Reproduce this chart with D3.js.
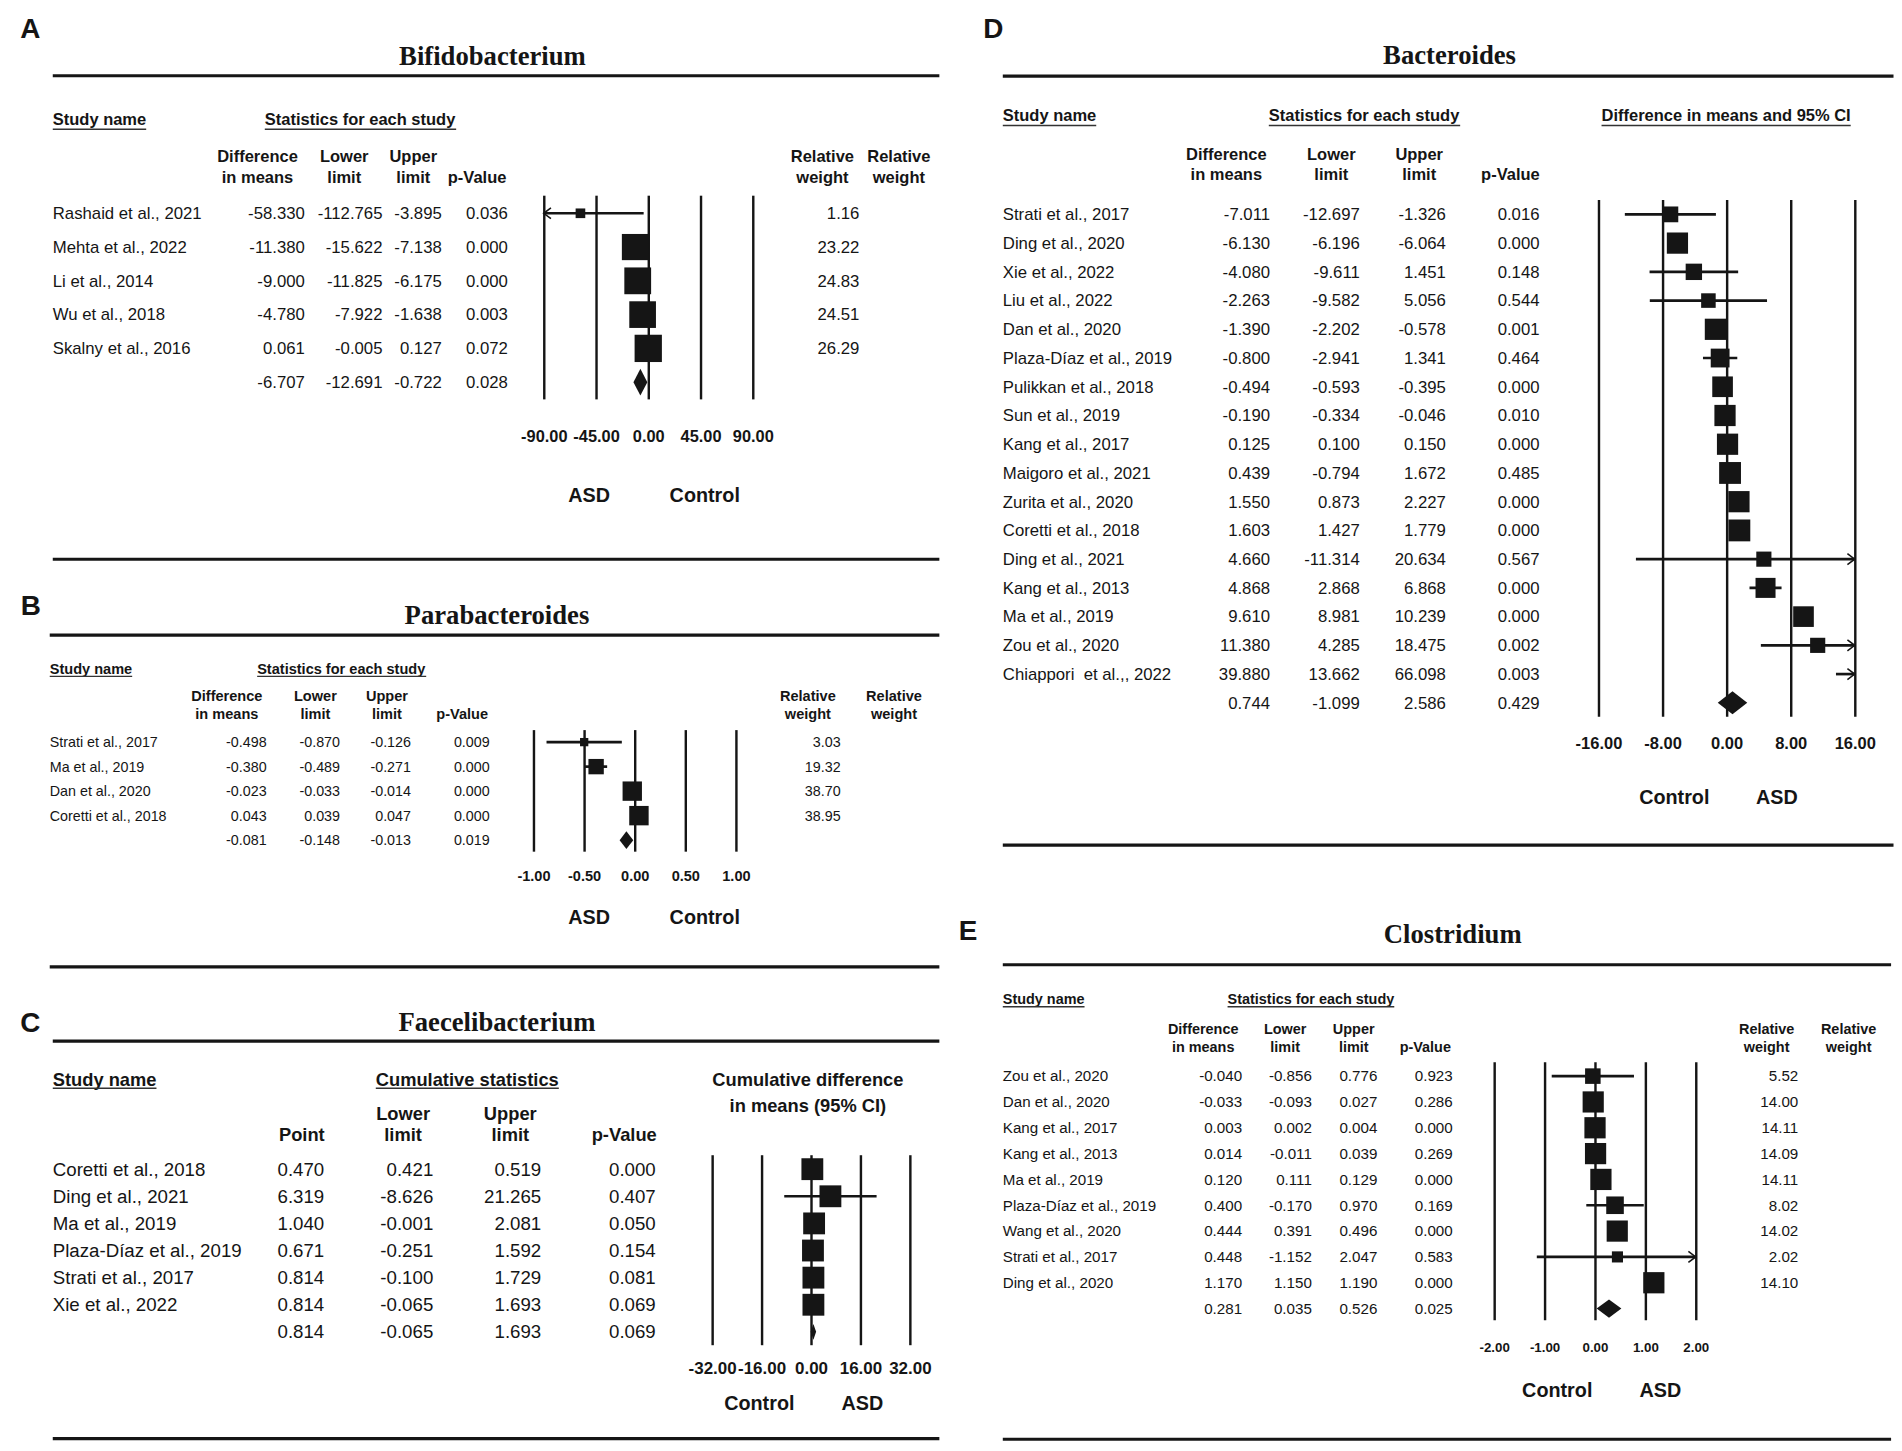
<!DOCTYPE html>
<html lang="en">
<head>
  <meta charset="UTF-8">
  <title>Forest plots</title>
  <script src="https://cdn.jsdelivr.net/npm/d3@7"></script>
  <style>
    body { margin: 0; background: #fff; }
    svg text { font-family: "Liberation Sans", Arial, sans-serif; fill: #151515; white-space: pre; }
    svg .title { font-family: "Liberation Serif", "Times New Roman", serif; font-weight: bold; }
    svg .hdr { font-weight: bold; }
    svg .letter { font-weight: bold; font-size: 23px; }
    svg .side { font-weight: bold; font-size: 16.3px; }
    .rule { stroke: #151515; stroke-width: 2.6; }
    .uline { stroke: #333; stroke-width: 1.2; }
    .ci { stroke: #151515; stroke-width: 2.2; fill: none; }
    .arrow { stroke: #151515; stroke-width: 1.3; fill: none; }
    .box, .diamond { fill: #151515; }
  </style>
</head>
<body>
<div id="chart"></div>
<script>
  // ---- A: Bifidobacterium
  const bifStudies = ["Rashaid et al., 2021", "Mehta et al., 2022", "Li et al., 2014", "Wu et al., 2018", "Skalny et al., 2016"]
  const bifDiff = [-58.330, -11.380, -9.000, -4.780, 0.061]
  const bifLower = [-112.765, -15.622, -11.825, -7.922, -0.005]
  const bifUpper = [-3.895, -7.138, -6.175, -1.638, 0.127]
  const bifP = [0.036, 0.000, 0.000, 0.003, 0.072]
  const bifWeight = [1.16, 23.22, 24.83, 24.51, 26.29]
  const bifSummary = [-6.707, -12.691, -0.722, 0.028]
  const bifTicks = [-90, -45, 0, 45, 90]

  // ---- B: Parabacteroides
  const paraStudies = ["Strati et al., 2017", "Ma et al., 2019", "Dan et al., 2020", "Coretti et al., 2018"]
  const paraDiff = [-0.498, -0.380, -0.023, 0.043]
  const paraLower = [-0.870, -0.489, -0.033, 0.039]
  const paraUpper = [-0.126, -0.271, -0.014, 0.047]
  const paraP = [0.009, 0.000, 0.000, 0.000]
  const paraWeight = [3.03, 19.32, 38.70, 38.95]
  const paraSummary = [-0.081, -0.148, -0.013, 0.019]
  const paraTicks = [-1, -0.5, 0, 0.5, 1]

  // ---- C: Faecelibacterium (cumulative)
  const faecStudies = ["Coretti et al., 2018", "Ding et al., 2021", "Ma et al., 2019", "Plaza-Díaz et al., 2019", "Strati et al., 2017", "Xie et al., 2022"]
  const faecPoint = [0.470, 6.319, 1.040, 0.671, 0.814, 0.814]
  const faecLower = [0.421, -8.626, -0.001, -0.251, -0.100, -0.065]
  const faecUpper = [0.519, 21.265, 2.081, 1.592, 1.729, 1.693]
  const faecP = [0.000, 0.407, 0.050, 0.154, 0.081, 0.069]
  const faecSummary = [0.814, -0.065, 1.693, 0.069]
  const faecTicks = [-32, -16, 0, 16, 32]

  // ---- D: Bacteroides
  const bactStudies = ["Strati et al., 2017", "Ding et al., 2020", "Xie et al., 2022", "Liu et al., 2022", "Dan et al., 2020",
    "Plaza-Díaz et al., 2019", "Pulikkan et al., 2018", "Sun et al., 2019", "Kang et al., 2017", "Maigoro et al., 2021",
    "Zurita et al., 2020", "Coretti et al., 2018", "Ding et al., 2021", "Kang et al., 2013", "Ma et al., 2019",
    "Zou et al., 2020", "Chiappori  et al.,, 2022"]
  const bactDiff = [-7.011, -6.130, -4.080, -2.263, -1.390, -0.800, -0.494, -0.190, 0.125, 0.439, 1.550, 1.603, 4.660, 4.868, 9.610, 11.380, 39.880]
  const bactLower = [-12.697, -6.196, -9.611, -9.582, -2.202, -2.941, -0.593, -0.334, 0.100, -0.794, 0.873, 1.427, -11.314, 2.868, 8.981, 4.285, 13.662]
  const bactUpper = [-1.326, -6.064, 1.451, 5.056, -0.578, 1.341, -0.395, -0.046, 0.150, 1.672, 2.227, 1.779, 20.634, 6.868, 10.239, 18.475, 66.098]
  const bactP = [0.016, 0.000, 0.148, 0.544, 0.001, 0.464, 0.000, 0.010, 0.000, 0.485, 0.000, 0.000, 0.567, 0.000, 0.000, 0.002, 0.003]
  // weights are not printed in D
  const bactWeightEst = [3.23, 7.86, 3.61, 2.53, 7.86, 5.47, 7.22, 7.86, 7.86, 8.56, 7.86, 8.56, 2.86, 6.59, 7.22, 2.86, 1.96]
  const bactSummary = [0.744, -1.099, 2.586, 0.429]
  const bactTicks = [-16, -8, 0, 8, 16]

  // ---- E: Clostridium
  const closStudies = ["Zou et al., 2020", "Dan et al., 2020", "Kang et al., 2017", "Kang et al., 2013", "Ma et al., 2019",
    "Plaza-Díaz et al., 2019", "Wang et al., 2020", "Strati et al., 2017", "Ding et al., 2020"]
  const closDiff = [-0.040, -0.033, 0.003, 0.014, 0.120, 0.400, 0.444, 0.448, 1.170]
  const closLower = [-0.856, -0.093, 0.002, -0.011, 0.111, -0.170, 0.391, -1.152, 1.150]
  const closUpper = [0.776, 0.027, 0.004, 0.039, 0.129, 0.970, 0.496, 2.047, 1.190]
  const closP = [0.923, 0.286, 0.000, 0.269, 0.000, 0.169, 0.000, 0.583, 0.000]
  const closWeight = [5.52, 14.00, 14.11, 14.09, 14.11, 8.02, 14.02, 2.02, 14.10]
  const closSummary = [0.281, 0.035, 0.526, 0.025]
  const closTicks = [-2, -1, 0, 1, 2]

  const sideAsdFirst = ["ASD", "Control"]
  const sideControlFirst = ["Control", "ASD"]

  const loc = d3.formatLocale({ decimal: ".", thousands: ",", grouping: [3], currency: ["", ""], minus: "-" })
  const f3 = loc.format(".3f")
  const f2 = loc.format(".2f")

  const W = 1568, H = 1196
  const svg = d3.select("#chart").append("svg")
    .attr("width", 1902).attr("height", 1451)
    .attr("viewBox", `0 0 ${W} ${H}`)
    .attr("preserveAspectRatio", "none")

  const panels = [
    {
      id: "A", title: "Bifidobacterium", letterAt: [25, 23], titleAt: [406, 45.6], titleSize: 22,
      ruleX: [43.5, 774.4], ruleY: [62.4, 461],
      font: 13.8, hdrFont: 13.6, tickFont: 13.5,
      groupY: 98.6, underY: 106.6,
      groups: [{ text: ["Study name"], x: 43.5 }, { text: ["Statistics for each study"], x: 218.3 }],
      nameX: 43.5, headY: [129, 145.7],
      cols: [
        { head: ["Difference", "in means"], center: 212.3, right: 251.3, values: bifDiff, total: bifSummary[0], fmt: f3 },
        { head: ["Lower", "limit"], center: 283.8, right: 315.3, values: bifLower, total: bifSummary[1], fmt: f3 },
        { head: ["Upper", "limit"], center: 340.7, right: 364.2, values: bifUpper, total: bifSummary[2], fmt: f3 },
        { head: ["p-Value"], center: 393.3, right: 418.7, values: bifP, total: bifSummary[3], fmt: f3 },
        { head: ["Relative", "weight"], center: 678, right: 708.5, values: bifWeight, total: null, fmt: f2 },
        { head: ["Relative", "weight"], center: 741, right: null }
      ],
      studies: bifStudies, est: bifDiff, lower: bifLower, upper: bifUpper, weight: bifWeight, summary: bifSummary,
      rows: [175.8, 315],
      domain: [-90, 90], ticks: bifTicks, xRange: [448.2, 620.5], lineY: [161.3, 329.2], tickY: 359.8,
      sides: sideAsdFirst, sideX: [485.6, 581], sideY: 407.8,
      maxBox: 22.5, diamondH: 22
    },
    {
      id: "B", title: "Parabacteroides", letterAt: [25.5, 499], titleAt: [409.7, 507], titleSize: 22,
      ruleX: [41, 774.4], ruleY: [523.5, 797],
      font: 11.8, hdrFont: 12, tickFont: 12,
      groupY: 551, underY: 557.5,
      groups: [{ text: ["Study name"], x: 41 }, { text: ["Statistics for each study"], x: 212 }],
      nameX: 41, headY: [574, 588.7],
      cols: [
        { head: ["Difference", "in means"], center: 187, right: 219.8, values: paraDiff, total: paraSummary[0], fmt: f3 },
        { head: ["Lower", "limit"], center: 260, right: 280.3, values: paraLower, total: paraSummary[1], fmt: f3 },
        { head: ["Upper", "limit"], center: 319, right: 338.8, values: paraUpper, total: paraSummary[2], fmt: f3 },
        { head: ["p-Value"], center: 381, right: 403.7, values: paraP, total: paraSummary[3], fmt: f3 },
        { head: ["Relative", "weight"], center: 666, right: 693, values: paraWeight, total: null, fmt: f2 },
        { head: ["Relative", "weight"], center: 737, right: null }
      ],
      studies: paraStudies, est: paraDiff, lower: paraLower, upper: paraUpper, weight: paraWeight, summary: paraSummary,
      rows: [611.7, 692.5],
      domain: [-1, 1], ticks: paraTicks, xRange: [439.7, 606.6], lineY: [601.8, 702], tickY: 722,
      sides: sideAsdFirst, sideX: [485.7, 581], sideY: 756,
      maxBox: 16, diamondH: 14.5
    },
    {
      id: "C", title: "Faecelibacterium", letterAt: [25, 843], titleAt: [409.7, 842.3], titleSize: 22,
      ruleX: [43.5, 774.4], ruleY: [858.2, 1185.8],
      font: 15.4, hdrFont: 15.1, tickFont: 14,
      groupY: 889.5, underY: 897,
      groups: [
        { text: ["Study name"], x: 43.5 },
        { text: ["Cumulative statistics"], x: 309.8 },
        { text: ["Cumulative difference", "in means (95% CI)"], center: 666, noLine: true, dy: 21.5 }
      ],
      nameX: 43.5, headY: [917.8, 935],
      cols: [
        { head: ["Point"], center: 248.8, right: 267.3, values: faecPoint, total: faecSummary[0], fmt: f3 },
        { head: ["Lower", "limit"], center: 332.3, right: 357.2, values: faecLower, total: faecSummary[1], fmt: f3 },
        { head: ["Upper", "limit"], center: 420.7, right: 446.2, values: faecUpper, total: faecSummary[2], fmt: f3 },
        { head: ["p-Value"], center: 514.6, right: 540.6, values: faecP, total: faecSummary[3], fmt: f3 }
      ],
      studies: faecStudies, est: faecPoint, lower: faecLower, upper: faecUpper, weight: null, summary: faecSummary,
      rows: [963.7, 1097.8],
      domain: [-32, 32], ticks: faecTicks, xRange: [587, 750], lineY: [952.2, 1108.8], tickY: 1127.5,
      sides: sideControlFirst, sideX: [626, 711], sideY: 1156.4,
      maxBox: 18, diamondH: 13
    },
    {
      id: "D", title: "Bacteroides", letterAt: [819, 23], titleAt: [1195, 45.3], titleSize: 22,
      ruleX: [826.7, 1561], ruleY: [62.7, 696.6],
      font: 13.8, hdrFont: 13.6, tickFont: 13.6,
      groupY: 94.8, underY: 103.4,
      groups: [
        { text: ["Study name"], x: 826.7 },
        { text: ["Statistics for each study"], x: 1046 },
        { text: ["Difference in means and 95% CI"], x: 1320.3 }
      ],
      nameX: 826.7, headY: [127, 143.4],
      cols: [
        { head: ["Difference", "in means"], center: 1011, right: 1047, values: bactDiff, total: bactSummary[0], fmt: f3 },
        { head: ["Lower", "limit"], center: 1097.5, right: 1121, values: bactLower, total: bactSummary[1], fmt: f3 },
        { head: ["Upper", "limit"], center: 1170, right: 1192, values: bactUpper, total: bactSummary[2], fmt: f3 },
        { head: ["p-Value"], center: 1245.2, right: 1269.2, values: bactP, total: bactSummary[3], fmt: f3 }
      ],
      studies: bactStudies, est: bactDiff, lower: bactLower, upper: bactUpper, weight: bactWeightEst, summary: bactSummary,
      rows: [176.7, 579.3],
      domain: [-16, 16], ticks: bactTicks, xRange: [1317.7, 1529], lineY: [164.9, 590.8], tickY: 612.3,
      sides: sideControlFirst, sideX: [1380.3, 1464.9], sideY: 656.8,
      maxBox: 18, diamondH: 19
    },
    {
      id: "E", title: "Clostridium", letterAt: [798, 767], titleAt: [1197.6, 770], titleSize: 22,
      ruleX: [826.7, 1559], ruleY: [795.2, 1186.3],
      font: 12.5, hdrFont: 11.9, tickFont: 11,
      groupY: 823.3, underY: 829.9,
      groups: [{ text: ["Study name"], x: 826.7 }, { text: ["Statistics for each study"], x: 1012 }],
      nameX: 826.7, headY: [848, 862.7],
      cols: [
        { head: ["Difference", "in means"], center: 991.9, right: 1024, values: closDiff, total: closSummary[0], fmt: f3 },
        { head: ["Lower", "limit"], center: 1059.5, right: 1081.5, values: closLower, total: closSummary[1], fmt: f3 },
        { head: ["Upper", "limit"], center: 1116, right: 1135.5, values: closUpper, total: closSummary[2], fmt: f3 },
        { head: ["p-Value"], center: 1175, right: 1197.6, values: closP, total: closSummary[3], fmt: f3 },
        { head: ["Relative", "weight"], center: 1456.4, right: 1482.5, values: closWeight, total: null, fmt: f2 },
        { head: ["Relative", "weight"], center: 1524, right: null }
      ],
      studies: closStudies, est: closDiff, lower: closLower, upper: closUpper, weight: closWeight, summary: closSummary,
      rows: [887, 1078.6],
      domain: [-2, 2], ticks: closTicks, xRange: [1231.7, 1397.9], lineY: [875.5, 1088.2], tickY: 1110.4,
      sides: sideControlFirst, sideX: [1283.8, 1368.8], sideY: 1145.8,
      maxBox: 17.5, diamondH: 15
    }
  ]

  function drawPanel (p) {
    const g = svg.append("g").attr("class", "panel panel-" + p.id)
    const n = p.studies.length

    g.append("text").attr("class", "letter")
      .attr("x", p.letterAt[0]).attr("y", p.letterAt[1]).attr("dy", "0.35em")
      .attr("text-anchor", "middle").text(p.id)

    g.append("text").attr("class", "title")
      .attr("x", p.titleAt[0]).attr("y", p.titleAt[1]).attr("dy", "0.35em")
      .attr("text-anchor", "middle").style("font-size", p.titleSize + "px").text(p.title)

    p.ruleY.forEach(y => {
      g.append("line").attr("class", "rule")
        .attr("x1", p.ruleX[0]).attr("x2", p.ruleX[1]).attr("y1", y).attr("y2", y)
    })

    // group headings, underlined
    p.groups.forEach(h => {
      h.text.forEach((line, k) => {
        const t = g.append("text").attr("class", "hdr")
          .attr("y", p.groupY + k * (h.dy || 0)).attr("dy", "0.35em")
          .style("font-size", p.hdrFont + "px").text(line)
        if (h.center != null) t.attr("x", h.center).attr("text-anchor", "middle")
        else t.attr("x", h.x)
        if (!h.noLine) {
          const bb = t.node().getBBox()
          g.append("line").attr("class", "uline")
            .attr("x1", bb.x).attr("x2", bb.x + bb.width)
            .attr("y1", p.underY).attr("y2", p.underY)
        }
      })
    })

    // column headings
    p.cols.forEach(c => {
      const lines = c.head.length === 1 ? [null, c.head[0]] : c.head
      lines.forEach((line, k) => {
        if (line == null) return
        g.append("text").attr("class", "hdr")
          .attr("x", c.center).attr("y", p.headY[k]).attr("dy", "0.35em")
          .attr("text-anchor", "middle").style("font-size", p.hdrFont + "px").text(line)
      })
    })

    const y = d3.scalePoint().domain(d3.range(n + 1)).range(p.rows)

    // study names and numbers
    g.selectAll("text.name").data(p.studies).join("text")
      .attr("class", "name")
      .attr("x", p.nameX).attr("y", (d, i) => y(i)).attr("dy", "0.35em")
      .style("font-size", p.font + "px").text(d => d)

    p.cols.filter(c => c.right != null).forEach(c => {
      const vals = c.total == null ? c.values : c.values.concat([c.total])
      g.selectAll(null).data(vals).join("text")
        .attr("x", c.right).attr("y", (d, i) => y(i)).attr("dy", "0.35em")
        .attr("text-anchor", "end").style("font-size", p.font + "px")
        .text(d => c.fmt(d))
    })

    // forest
    const x = d3.scaleLinear().domain(p.domain).range(p.xRange)
    const axis = g.append("g")
      .attr("transform", `translate(0,${p.lineY[1]})`)
      .call(d3.axisBottom(x).tickValues(p.ticks).tickFormat(f2)
        .tickSize(-(p.lineY[1] - p.lineY[0])).tickPadding(p.tickY - p.lineY[1]))
    axis.select(".domain").remove()
    axis.selectAll(".tick line").attr("stroke", "#151515").attr("stroke-width", 2)
    axis.selectAll(".tick text")
      .attr("dy", "0.35em").attr("fill", "#151515")
      .style("font-size", p.tickFont + "px").style("font-weight", "bold")
      .style("font-family", '"Liberation Sans", Arial, sans-serif')

    const [d0, d1] = p.domain
    const maxW = p.weight ? d3.max(p.weight) : 1
    const size = d3.scalePow().exponent(1 / 3).domain([0, maxW]).range([0, p.maxBox])

    p.studies.forEach((s, i) => {
      const yy = y(i)
      const lo = Math.max(p.lower[i], d0)
      const hi = Math.min(p.upper[i], d1)
      if (lo < hi) {
        g.append("line").attr("class", "ci")
          .attr("x1", x(lo)).attr("x2", x(hi)).attr("y1", yy).attr("y2", yy)
      }
      if (p.lower[i] < d0) {
        const tip = x(d0)
        g.append("path").attr("class", "arrow")
          .attr("d", `M${tip + 6},${yy - 4.5}L${tip},${yy}L${tip + 6},${yy + 4.5}`)
      }
      if (p.upper[i] > d1) {
        const tip = x(d1)
        g.append("path").attr("class", "arrow")
          .attr("d", `M${tip - 6},${yy - 4.5}L${tip},${yy}L${tip - 6},${yy + 4.5}`)
      }
      const e = p.est[i]
      if (e >= d0 && e <= d1) {
        const b = p.weight ? size(p.weight[i]) : p.maxBox
        g.append("rect").attr("class", "box")
          .attr("x", x(e) - b / 2).attr("y", yy - b / 2)
          .attr("width", b).attr("height", b)
      }
    })

    // summary diamond
    const ys = y(n)
    const [se, sl, su] = p.summary
    const h = p.diamondH / 2
    g.append("path").attr("class", "diamond")
      .attr("d", `M${x(sl)},${ys}L${x(se)},${ys - h}L${x(su)},${ys}L${x(se)},${ys + h}Z`)

    // direction labels
    p.sides.forEach((lab, k) => {
      g.append("text").attr("class", "side")
        .attr("x", p.sideX[k]).attr("y", p.sideY).attr("dy", "0.35em")
        .attr("text-anchor", "middle").text(lab)
    })
  }

  panels.forEach(drawPanel)
</script>
</body>
</html>
